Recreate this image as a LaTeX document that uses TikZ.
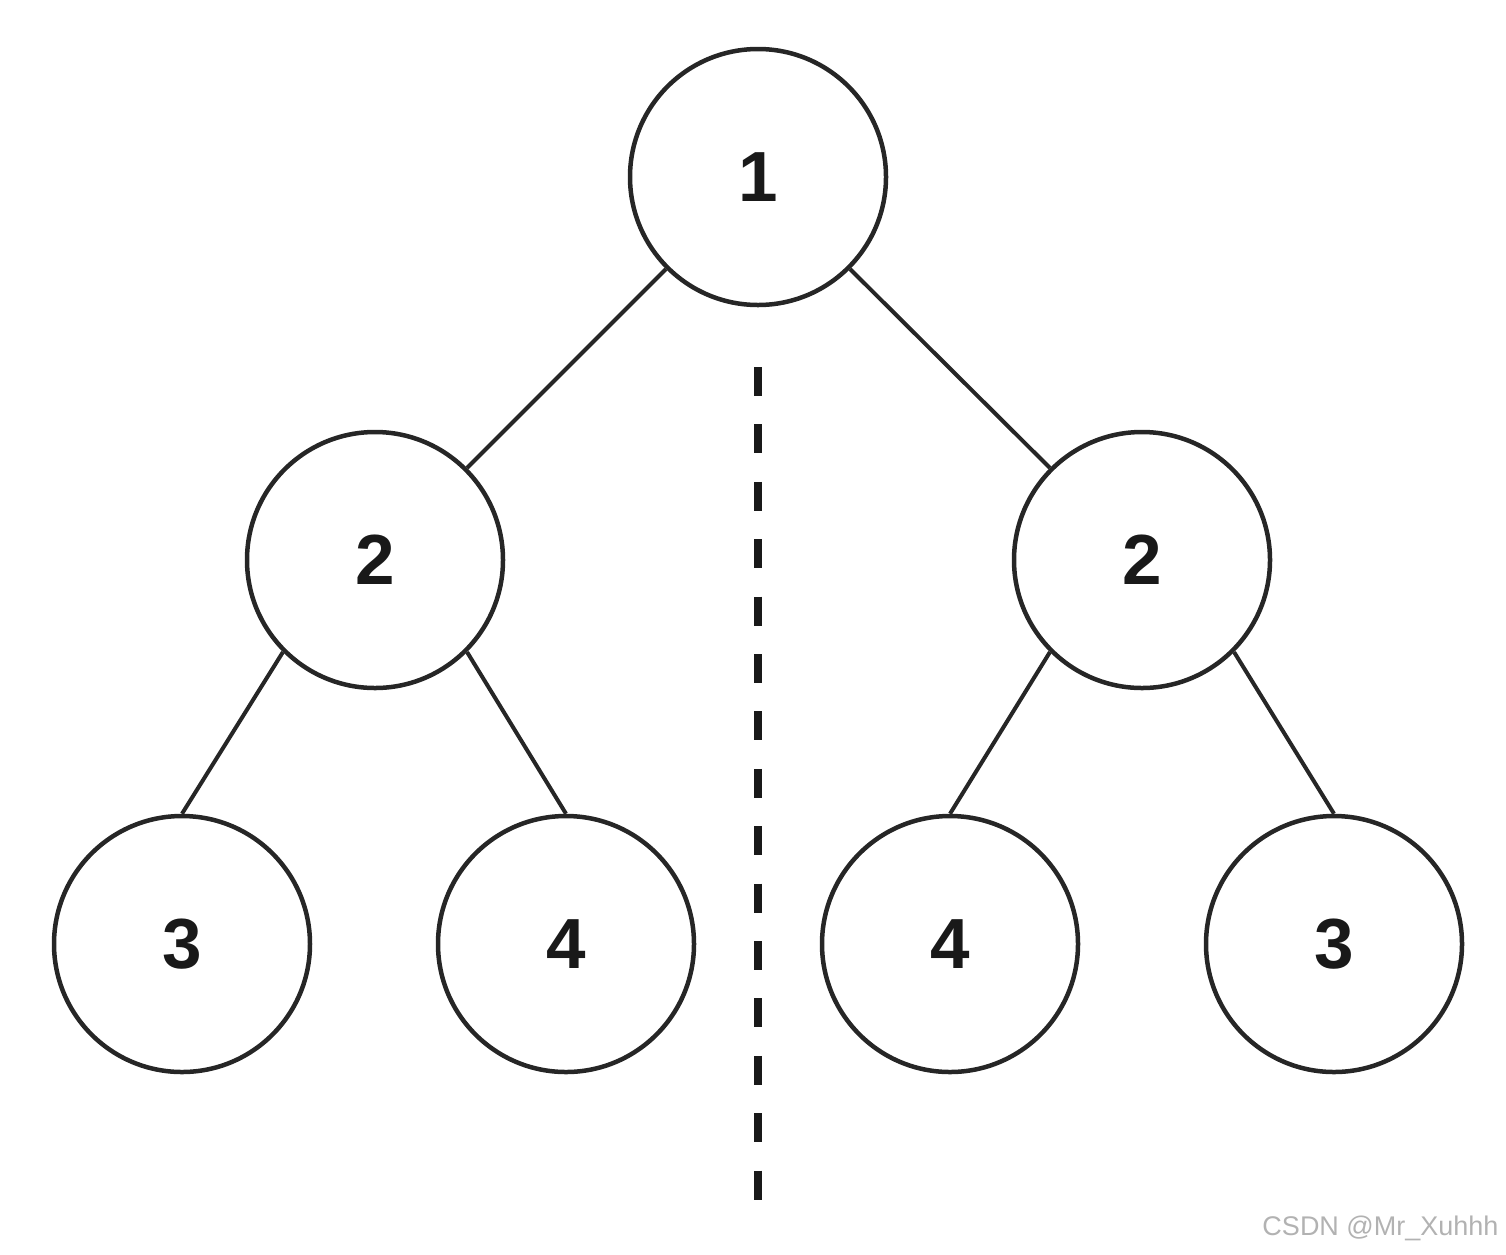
\documentclass[tikz,border=0pt]{standalone}
\usepackage{fontspec}
\setmainfont{Liberation Sans}
\begin{document}
\begin{tikzpicture}[x=1pt,y=-1pt,
  treenode/.style={circle,draw=black!85,line width=4.5pt,minimum size=256pt,inner sep=0pt,
    font=\fontsize{71}{75}\selectfont\bfseries,text=black!90},
  edge/.style={draw=black!85,line width=4pt},
  divider/.style={draw=black!90,line width=8pt,dash pattern=on 29pt off 28.4pt},
  wmtext/.style={text=black!30,font=\fontsize{27}{30}\selectfont,anchor=east}]
\useasboundingbox (0,0) rectangle (1506,1254);
\node[treenode] (n1) at (758,177) {1};
\node[treenode] (l2) at (375,560) {2};
\node[treenode] (r2) at (1142,560) {2};
\node[treenode] (l3) at (182,944) {3};
\node[treenode] (l4) at (566,944) {4};
\node[treenode] (r4) at (950,944) {4};
\node[treenode] (r3) at (1334,944) {3};
\draw[edge] (n1.south west) -- (l2.north east);
\draw[edge] (n1.south east) -- (r2.north west);
\draw[edge] (l2.south west) -- (l3.north);
\draw[edge] (l2.south east) -- (l4.north);
\draw[edge] (r2.south west) -- (r4.north);
\draw[edge] (r2.south east) -- (r3.north);
\coordinate (dtop) at (758,367);
\coordinate (dbot) at (758,1200);
\draw[divider] (dtop) -- (dbot);
\node[wmtext] (wm) at (1502,1228) {CSDN @Mr\_Xuhhh};
\end{tikzpicture}
\end{document}
